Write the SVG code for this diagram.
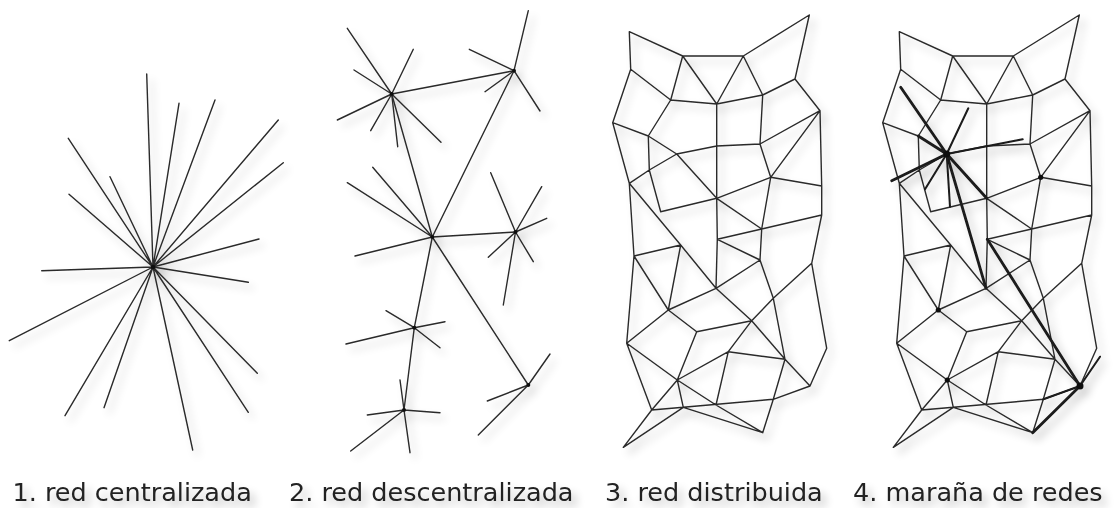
<svg xmlns="http://www.w3.org/2000/svg" xmlns:xlink="http://www.w3.org/1999/xlink" width="1117" height="508" viewBox="0 0 1117 508">
<defs>
<style>
.ln{fill:none;stroke:#2a2a2a;stroke-width:1.4;stroke-linecap:round;stroke-linejoin:round}
.tk{fill:none;stroke:#1a1a1a;stroke-linecap:round}
.dot{fill:#111}
.lbl{font-family:"DejaVu Sans","Verdana",sans-serif;font-size:25.5px;fill:#222}
</style>
<filter id="sh" x="-15%" y="-15%" width="140%" height="140%">
<feGaussianBlur in="SourceAlpha" stdDeviation="4"/>
<feOffset dx="5" dy="6"/>
<feComponentTransfer><feFuncA type="linear" slope="0.25"/></feComponentTransfer>
<feMerge><feMergeNode/><feMergeNode in="SourceGraphic"/></feMerge>
</filter>
<path id="mesh" class="ln" d="M629.3,31.7L682.7,56M629.3,31.7L630.7,69.3M682.7,56L743.3,56M743.3,56L809.3,15M809.3,15L795,79M682.7,56L670.7,100M682.7,56L716.7,104M743.3,56L716.7,104M743.3,56L762.7,95M795,79L762.7,95M795,79L820,110.7M630.7,69.3L670.7,100M630.7,69.3L612.7,122.7M670.7,100L716.7,104M716.7,104L762.7,95M670.7,100L648.3,136M612.7,122.7L648.3,136M716.7,104L716.7,146M762.7,95L760,144M820,110.7L760,144M716.7,146L760,144M648.3,136L676.7,154M676.7,154L716.7,146M820,110.7L770.7,177.3M820,110.7L821.7,186M612.7,122.7L629.3,183.3M648.3,136L649.3,170M629.3,183.3L649.3,170L676.7,154M676.7,154L716.7,198.3M649.3,170L660.7,211.7M716.7,146L716.7,198.3L717.3,239.3L716,288.3M716.7,198.3L770.7,177.3M660.7,211.7L716.7,198.3M770.7,177.3L821.7,186M760,144L770.7,177.3M821.7,186L821.7,215M770.7,177.3L761.7,229M716.7,198.3L761.7,229M761.7,229L821.7,215M629.3,183.3L634,256M629.3,183.3L680.7,245L716,288.3M634,256L680.7,245M680.7,245L668.3,310M634,256L668.3,310M717.3,239.3L761.7,229M717.3,239.3L760,260M760,260L716,288.3M760,260L773.3,298.3M761.7,229L760,260M821.7,215L811.7,263.3M811.7,263.3L773.3,298.3M811.7,263.3L826.7,348.3M668.3,310L716,288.3M634,256L626.7,343.3M668.3,310L626.7,343.3M668.3,310L696.7,331.7M716,288.3L751.7,320.7M773.3,298.3L751.7,320.7M696.7,331.7L751.7,320.7M751.7,320.7L785,359.3M773.3,298.3L785,359.3M826.7,348.3L810,386M785,359.3L810,386M751.7,320.7L728.3,351.7M728.3,351.7L677.3,380M728.3,351.7L785,359.3M728.3,351.7L716,405M696.7,331.7L677.3,380M626.7,343.3L677.3,380M626.7,343.3L651.7,410M677.3,380L651.7,410M677.3,380L683.3,407.3M677.3,380L716,405M651.7,410L623.3,447.3M683.3,407.3L623.3,447.3M651.7,410L683.3,407.3M683.3,407.3L773.3,399.3M716,405L762.7,432.7M683.3,407.3L762.7,432.7M785,359.3L773.3,399.3M773.3,399.3L762.7,432.7M773.3,399.3L810,386"/>
</defs>
<rect width="1117" height="508" fill="#ffffff"/>

<g id="panel1" filter="url(#sh)">
<g id="p1-connectors">
<path class="ln" d="M153,267L146.7,74M153,267L179,103.3M153,267L215,100M153,267L278.3,120M153,267L283.3,162.7M153,267L259,239M153,267L248.3,282.3M153,267L257.3,373.3M153,267L248.3,412.3M153,267L192.7,450M153,267L104,407.7M153,267L65,415.7M153,267L9.3,340.7M153,267L41.7,270.7M153,267L69,194.3M153,267L110,176.7M153,267L68.3,138.3"/>
</g>
<g id="p1-hub"><circle class="dot" cx="153" cy="267" r="2.3"/></g>
</g>

<g id="panel2" filter="url(#sh)">
<g id="p2-connectors">
<path class="ln" d="M391.7,94L514,70.7M391.7,94L432.3,237M514,70.7L432.3,237M432.3,237L515.5,232M432.3,237L414.3,327.7M432.3,237L528.3,385M414.3,327.7L404,410"/>
<path class="ln" d="M391.7,94L347.3,28.3M391.7,94L354,70M391.7,94L413.3,49.3M391.7,94L337.3,120M391.7,94L370.7,130.7M391.7,94L397.7,146.7M391.7,94L441,142.3"/>
<path class="ln" d="M514,70.7L528.3,10.7M514,70.7L469.3,49.3M514,70.7L485,91.7M514,70.7L540,111"/>
<path class="ln" d="M432.3,237L347.3,182.7M432.3,237L372.7,167.3M432.3,237L355,256"/>
<path class="ln" d="M515.5,232L490.7,172.7M515.5,232L541.7,186.7M515.5,232L546.7,218.3M515.5,232L488.3,257.3M515.5,232L533.3,261.7M515.5,232L503.3,305"/>
<path class="ln" d="M414.3,327.7L386,310.7M414.3,327.7L445,321.7M414.3,327.7L346,344M414.3,327.7L440,347.7"/>
<path class="ln" d="M404,410L400,380M404,410L367.3,415M404,410L440,412.7M404,410L350.7,451M404,410L410,452.7"/>
<path class="ln" d="M528.3,385L550,354M528.3,385L487.3,401M528.3,385L478.3,435"/>
</g>
<g id="p2-hubA"><circle class="dot" cx="391.7" cy="94" r="2"/></g>
<g id="p2-hubB"><circle class="dot" cx="514" cy="70.7" r="2"/></g>
<g id="p2-hubD"><circle class="dot" cx="432.3" cy="237" r="2"/></g>
<g id="p2-hubE"><circle class="dot" cx="515.5" cy="232" r="2"/></g>
<g id="p2-hubF"><circle class="dot" cx="414.3" cy="327.7" r="2"/></g>
<g id="p2-hubG"><circle class="dot" cx="404" cy="410" r="2"/></g>
<g id="p2-hubH"><circle class="dot" cx="528.3" cy="385" r="2"/></g>
</g>

<g id="panel3" filter="url(#sh)">
<use xlink:href="#mesh" href="#mesh"/>
</g>

<g id="panel4" filter="url(#sh)">
<use xlink:href="#mesh" href="#mesh" x="270"/>
<g id="p4-connectors">
<path class="tk" stroke-width="2.8" d="M946.7,154L900.7,87.3M946.7,154L891.7,180.7M946.7,154L986.7,198.3M946.7,154L986,288.3M918.3,136L946.7,154M987.3,239.3L1080,386M1080,386L1032.7,432.7"/>
<path class="tk" stroke-width="2" d="M946.7,154L968.3,108.3M946.7,154L1022.7,139.3M946.7,154L925,189.3M946.7,154L950,206.7M1080,386L1100,356.7M1080,386L1043.3,399.3"/>
</g>
<g id="p4-hub1"><circle class="dot" cx="946.7" cy="154" r="3.5"/></g>
<g id="p4-node2"><circle class="dot" cx="1040.7" cy="177.3" r="2.6"/></g>
<g id="p4-node3"><circle class="dot" cx="938.3" cy="310" r="2.6"/></g>
<g id="p4-node4"><circle class="dot" cx="947.3" cy="380" r="2.6"/></g>
<g id="p4-hub5"><circle class="dot" cx="1080" cy="386" r="3.5"/></g>
</g>

<g id="labels" filter="url(#sh)">
<text class="lbl" x="12.5" y="501">1. red centralizada</text>
<text class="lbl" x="289" y="501">2. red descentralizada</text>
<text class="lbl" x="605" y="501">3. red distribuida</text>
<text class="lbl" x="853" y="501">4. maraña de redes</text>
</g>
</svg>
